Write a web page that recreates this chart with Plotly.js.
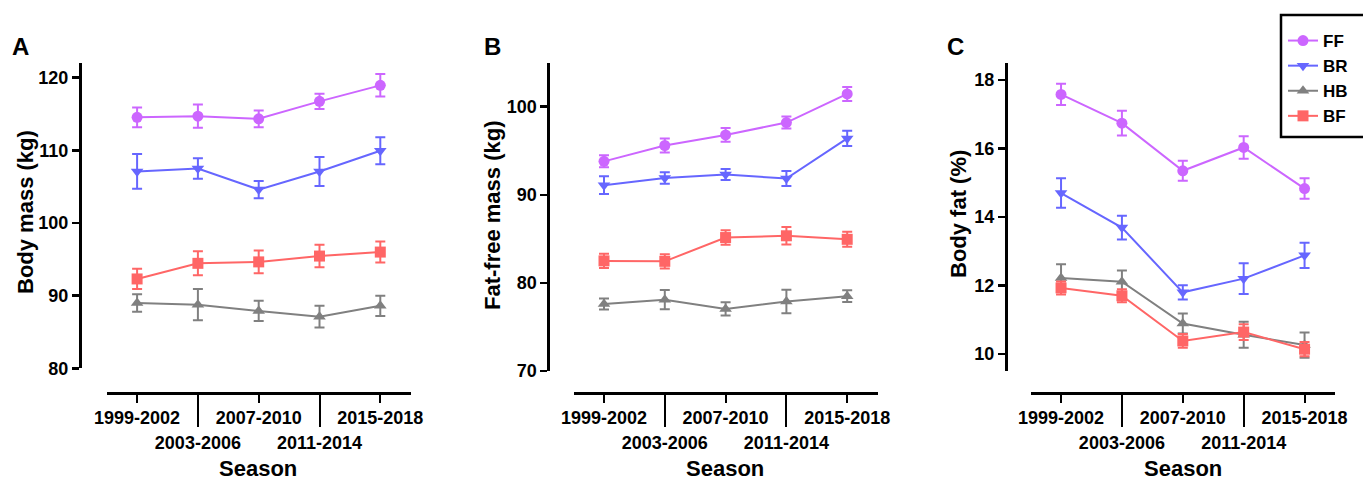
<!DOCTYPE html>
<html>
<head>
<meta charset="utf-8">
<script src="https://cdn.plot.ly/plotly-3.0.1.min.js"></script>
<style>html,body{margin:0;padding:0;background:#fff}#chart{width:1363px;height:480px}</style>
</head>
<body>
<div id="chart"></div>
<script>
// ---------- data ----------
const seasons = ['1999-2002', '2003-2006', '2007-2010', '2011-2014', '2015-2018'];
const groups = ['FF', 'BR', 'HB', 'BF'];

// Panel A: Body mass (kg), mean and error
const massFF = [114.55, 114.7, 114.35, 116.75, 118.95];
const massFFerr = [1.35, 1.6, 1.15, 1.05, 1.55];
const massBR = [107.1, 107.5, 104.6, 107.1, 109.95];
const massBRerr = [2.4, 1.4, 1.2, 2.0, 1.85];
const massHB = [89.0, 88.75, 87.9, 87.1, 88.6];
const massHBerr = [1.2, 2.15, 1.4, 1.5, 1.4];
const massBF = [92.3, 94.45, 94.65, 95.45, 96.0];
const massBFerr = [1.4, 1.65, 1.55, 1.55, 1.45];

// Panel B: Fat-free mass (kg)
const ffmFF = [93.8, 95.6, 96.8, 98.2, 101.45];
const ffmFFerr = [0.68, 0.8, 0.78, 0.68, 0.8];
const ffmBR = [91.1, 91.9, 92.3, 91.85, 96.4];
const ffmBRerr = [1.0, 0.65, 0.63, 0.85, 0.87];
const ffmHB = [77.6, 78.1, 77.05, 77.9, 78.5];
const ffmHBerr = [0.62, 1.1, 0.76, 1.33, 0.66];
const ffmBF = [82.5, 82.45, 85.15, 85.35, 84.95];
const ffmBFerr = [0.8, 0.8, 0.83, 1.0, 0.85];

// Panel C: Body fat (%)
const fatFF = [17.58, 16.74, 15.35, 16.03, 14.83];
const fatFFerr = [0.31, 0.36, 0.29, 0.33, 0.3];
const fatBR = [14.7, 13.69, 11.8, 12.2, 12.88];
const fatBRerr = [0.43, 0.35, 0.21, 0.45, 0.37];
const fatHB = [12.22, 12.11, 10.89, 10.56, 10.26];
const fatHBerr = [0.4, 0.33, 0.29, 0.38, 0.37];
const fatBF = [11.93, 11.7, 10.38, 10.64, 10.14];
const fatBFerr = [0.19, 0.19, 0.2, 0.23, 0.21];

const panelLetters = ['A', 'B', 'C'];
const yTitles = ['Body mass (kg)', 'Fat-free mass (kg)', 'Body fat (%)'];
const xTitle = 'Season';
const yRanges = [[80, 122], [70, 105], [9.5, 18.5]];
const yTicks = [[80, 90, 100, 110, 120], [70, 80, 90, 100], [10, 12, 14, 16, 18]];

// ---------- styling ----------
const W = 1363, H = 480;
const colors = {FF: '#CC66FF', BR: '#6666FF', HB: '#808080', BF: '#FF6666'};
const symbols = {FF: 'circle', BR: 'triangle-down', HB: 'triangle-up', BF: 'square'};
const msize = {FF: 11, BR: 11, HB: 11, BF: 11};
const FONT = 'Liberation Sans, Arial, Helvetica, sans-serif';
const TICKFONT = {family: FONT, size: 18, weight: 'bold', color: '#000'};
const TITLEFONT = {family: FONT, size: 22, weight: 'bold', color: '#000'};
const px = v => v / W;
const py = v => 1 - v / H;

const panels = [
  {means: [massFF, massBR, massHB, massBF], errs: [massFFerr, massBRerr, massHBerr, massBFerr],
   xd: [106.7, 410.7], yd: [63.2, 368.3], yax: 80, letter: [20, 47], ytitle: [25, 212], xtitle: 258},
  {means: [ffmFF, ffmBR, ffmHB, ffmBF], errs: [ffmFFerr, ffmBRerr, ffmHBerr, ffmBFerr],
   xd: [573.6, 877.6], yd: [62.7, 371], yax: 548.3, letter: [492, 47], ytitle: [492, 215], xtitle: 725},
  {means: [fatFF, fatBR, fatHB, fatBF], errs: [fatFFerr, fatBRerr, fatHBerr, fatBFerr],
   xd: [1030.6, 1335], yd: [62.9, 371.1], yax: 1006, letter: [955, 47], ytitle: [958, 214], xtitle: 1183}
];

const xPos = seasons.map((_, i) => i + 1);
const traces = [];
const layout = {
  width: W, height: H,
  margin: {l: 0, r: 0, t: 0, b: 0},
  paper_bgcolor: '#fff', plot_bgcolor: 'rgba(0,0,0,0)',
  font: {family: FONT, color: '#000', size: 18, weight: 'bold'},
  showlegend: true,
  legend: {x: px(1283), y: py(23), xanchor: 'left', yanchor: 'top',
           bgcolor: 'rgba(0,0,0,0)', borderwidth: 0, tracegroupgap: 0, itemwidth: 30,
           font: {family: FONT, size: 17, weight: 'bold', color: '#000'}},
  annotations: [], shapes: []
};

const axisLine = 2.5;
const xAxisY = 393;

panels.forEach((p, k) => {
  const n = k + 1;
  const xa = 'x' + (n === 1 ? '' : n), ya = 'y' + (n === 1 ? '' : n);
  groups.forEach((g, gi) => {
    traces.push({
      type: 'scatter', mode: 'lines+markers',
      x: xPos, y: p.means[gi], name: g, showlegend: k === 0,
      xaxis: xa, yaxis: ya,
      line: {color: colors[g], width: 2},
      marker: {symbol: symbols[g], size: msize[g], color: colors[g]},
      error_y: {type: 'data', array: p.errs[gi], visible: true, color: colors[g], thickness: 2, width: 5},
      cliponaxis: false
    });
  });
  // primary x-axis (ticks at odd positions, first row of labels)
  layout['xaxis' + (n === 1 ? '' : n)] = {
    domain: [px(p.xd[0]), px(p.xd[1])], range: [0.5, 5.5],
    anchor: 'free', position: py(xAxisY),
    showline: true, linecolor: '#000', linewidth: axisLine,
    showgrid: false, zeroline: false,
    tickmode: 'array', tickvals: xPos.filter((_, i) => i % 2 === 0),
    ticktext: seasons.filter((_, i) => i % 2 === 0),
    ticks: 'outside', ticklen: 8, tickwidth: 2, tickcolor: '#000',
    tickfont: TICKFONT, fixedrange: true
  };
  // overlay x-axis (long ticks at even positions, second row of labels)
  const on = n + 3;
  layout['xaxis' + on] = {
    overlaying: xa, range: [0.5, 5.5],
    anchor: 'free', position: py(xAxisY),
    showline: false, showgrid: false, zeroline: false,
    tickmode: 'array', tickvals: xPos.filter((_, i) => i % 2 === 1),
    ticktext: seasons.filter((_, i) => i % 2 === 1),
    ticks: 'outside', ticklen: 33, tickwidth: 2, tickcolor: '#000',
    tickfont: TICKFONT, fixedrange: true
  };
  traces.push({type: 'scatter', mode: 'markers', x: [], y: [], xaxis: 'x' + on, yaxis: ya,
               showlegend: false, hoverinfo: 'skip'});
  layout['yaxis' + (n === 1 ? '' : n)] = {
    domain: [py(p.yd[1]), py(p.yd[0])], range: yRanges[k],
    anchor: 'free', position: px(p.yax),
    showline: true, linecolor: '#000', linewidth: axisLine,
    showgrid: false, zeroline: false,
    tickmode: 'array', tickvals: yTicks[k],
    ticks: 'outside', ticklen: 7, tickwidth: 2.5, tickcolor: '#000',
    tickfont: TICKFONT, fixedrange: true
  };
  layout.annotations.push(
    {text: panelLetters[k], xref: 'paper', yref: 'paper', x: px(p.letter[0]), y: py(p.letter[1]),
     showarrow: false, xanchor: 'center', yanchor: 'middle',
     font: {family: FONT, size: 24, weight: 'bold', color: '#000'}},
    {text: yTitles[k], xref: 'paper', yref: 'paper', x: px(p.ytitle[0]), y: py(p.ytitle[1]),
     showarrow: false, xanchor: 'center', yanchor: 'middle', textangle: -90, font: TITLEFONT},
    {text: xTitle, xref: 'paper', yref: 'paper', x: px(p.xtitle), y: py(468),
     showarrow: false, xanchor: 'center', yanchor: 'middle', font: TITLEFONT}
  );
});

// legend frame
layout.shapes.push({type: 'rect', xref: 'paper', yref: 'paper',
  x0: px(1281), x1: px(1366), y0: py(137), y1: py(15),
  line: {color: '#000', width: 2.5}, fillcolor: 'rgba(0,0,0,0)'});

Plotly.newPlot('chart', traces, layout, {displayModeBar: false, staticPlot: true});
</script>
</body>
</html>
